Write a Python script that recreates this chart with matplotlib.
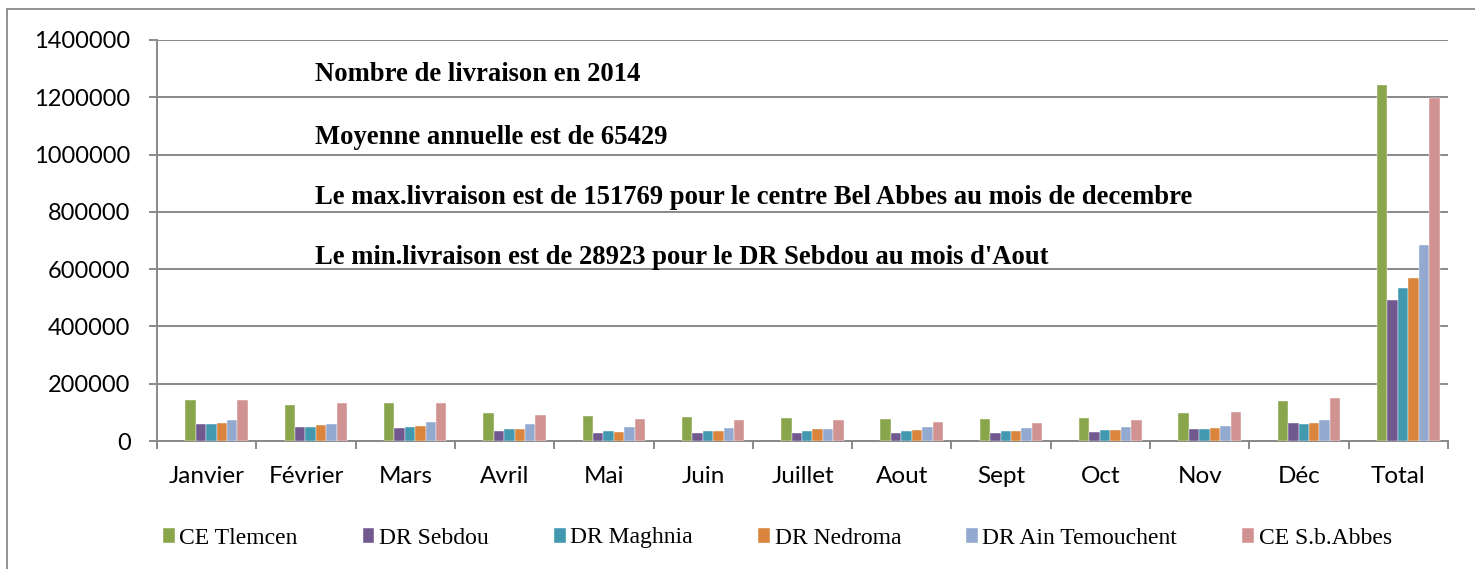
"""
Nombre de livraison en 2014 - histogramme groupé par centre
"""

import numpy as np
from matplotlib import pyplot as plt
from matplotlib.patches import Rectangle
from matplotlib.ticker import StrMethodFormatter

mois = ["Janvier", "Février", "Mars", "Avril", "Mai", "Juin", "Juillet",
        "Aout", "Sept", "Oct", "Nov", "Déc", "Total"]

ce_tlemcen = [142800, 126300, 131000, 97600, 85600, 83300, 81000,
              77500, 77500, 79800, 97400, 138000, 1241900]
dr_sebdou = [58600, 49100, 45600, 33900, 28100, 28100, 28100,
             28923, 29200, 30400, 43300, 63200, 491900]
dr_maghnia = [58000, 49100, 48000, 41000, 36300, 34000, 34000,
              34000, 36300, 37500, 43300, 59700, 532600]
dr_nedroma = [62000, 55000, 52600, 41000, 32800, 34000, 41000,
              37500, 34000, 37500, 46800, 63200, 567400]
dr_ain_temouchent = [72600, 60000, 67900, 60000, 48000, 44500, 43300,
                     48000, 46800, 48000, 52600, 72600, 684900]
ce_sbabbes = [142800, 131000, 133500, 89400, 78500, 75000, 75000,
              65700, 62000, 72600, 101000, 151769, 1197700]

series = ["CE Tlemcen", "DR Sebdou", "DR Maghnia", "DR Nedroma",
          "DR Ain Temouchent", "CE S.b.Abbes"]
valeurs = [ce_tlemcen, dr_sebdou, dr_maghnia, dr_nedroma, dr_ain_temouchent, ce_sbabbes]
couleurs = ["#8aa64c", "#71588f", "#4198af", "#db843d", "#93a9cf", "#d19392"]

textes = [
    "Nombre de livraison en 2014",
    "Moyenne annuelle est de 65429",
    "Le max.livraison est de 151769 pour le centre Bel Abbes au mois de decembre",
    "Le min.livraison est de 28923 pour le DR Sebdou au mois d'Aout",
]

GRIS = "#898989"
W = 0.105  # largeur d'une barre (fraction de catégorie)

fig = plt.figure(figsize=(14.75, 5.69), dpi=100)
# cadre extérieur du graphique
fig.patches.append(Rectangle((7 / 1475, -0.1), 1.2, (569 - 9) / 569 + 0.1,
                             transform=fig.transFigure, fill=False,
                             edgecolor=GRIS, linewidth=1.3))

ax = fig.add_axes([157 / 1475, 1 - 441 / 569, (1448 - 157) / 1475, 401 / 569])
x = np.arange(len(mois))
for i, (nom, vals, c) in enumerate(zip(series, valeurs, couleurs)):
    ax.bar(x + 0.1 + (i - 2.5) * W, vals, W, color=c, label=nom,
           edgecolor="white", linewidth=0.3, zorder=3)

ax.set_xlim(-0.5, len(mois) - 0.5)
ax.set_ylim(0, 1400000)
ax.set_yticks(np.arange(0, 1400001, 200000))
ax.yaxis.set_major_formatter(StrMethodFormatter("{x:.0f}"))
ax.yaxis.grid(True, color=GRIS, linewidth=1.4, zorder=0)

ax.set_xticks(np.arange(len(mois) + 1) - 0.5)
ax.set_xticklabels([])
ax.set_xticks(x, minor=True)
ax.set_xticklabels(mois, minor=True, fontsize=17.5, family="Lato")
ax.tick_params(axis="x", which="minor", length=0, pad=18)
ax.tick_params(axis="x", which="major", length=6, width=1.4, color=GRIS)
ax.tick_params(axis="y", length=6, width=1.4, color=GRIS, pad=13, labelsize=17)
for lab in ax.get_yticklabels():
    lab.set_family("Lato")

for s in ["top", "right"]:
    ax.spines[s].set_visible(False)
for s in ["left", "bottom"]:
    ax.spines[s].set_color(GRIS)
    ax.spines[s].set_linewidth(1.4)

for t, yy in zip(textes, [0.914, 0.756, 0.606, 0.457]):
    ax.text(0.1224, yy, t, transform=ax.transAxes, va="center", ha="left",
            fontsize=19.2, fontweight="bold", family="Liberation Serif", zorder=5)

fig.legend(loc="center", bbox_to_anchor=(0.527, 1 - 538 / 569), ncol=6,
           frameon=False, prop={"family": "Liberation Serif", "size": 17},
           handlelength=0.5, handleheight=0.6, handletextpad=0.2,
           columnspacing=2.75)

fig.savefig("out.png", dpi=100)
